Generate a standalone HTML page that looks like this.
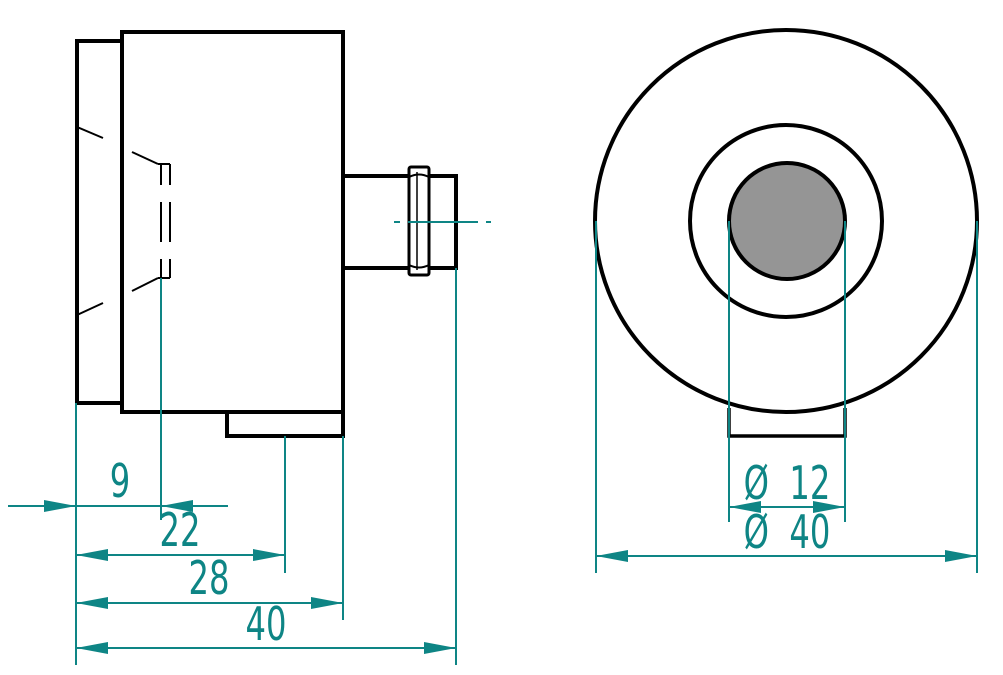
<!DOCTYPE html>
<html><head><meta charset="utf-8"><style>html,body{margin:0;padding:0;background:#fff}svg{display:block}</style></head>
<body>
<svg width="1003" height="675" viewBox="0 0 1003 675" xmlns="http://www.w3.org/2000/svg">
<defs>
<marker id="a" viewBox="0 0 32 12" refX="32" refY="6" markerWidth="32" markerHeight="12" markerUnits="userSpaceOnUse" orient="auto-start-reverse"><path d="M0,0 L32,6 L0,12 Z" fill="#0e8585"/></marker>
</defs>
<g fill="none" stroke="#000" stroke-width="4">
<rect x="77" y="41" width="45" height="362"/>
<rect x="122" y="32" width="221" height="380"/>
<rect x="227" y="412" width="116" height="24"/>
<rect x="343" y="176" width="113" height="92"/>
<rect x="409" y="167" width="20" height="108" rx="2" stroke-width="3" fill="#fff"/>
</g>
<g stroke="#000" stroke-width="2" fill="none">
<line x1="417" y1="172" x2="417" y2="270" stroke-width="1.5"/>
<path d="M409,177 Q419,172 429,177 M409,265 Q419,270 429,265" stroke-width="2"/>
<line x1="77" y1="127" x2="103" y2="138"/>
<line x1="77" y1="315" x2="103" y2="303"/>
<line x1="132" y1="152" x2="158" y2="164"/>
<line x1="132" y1="291" x2="158" y2="278"/>
<path d="M161,164 V185 M170,164 V185 M161,202 V242 M170,202 V242 M161,259 V278 M170,259 V278 M158,164 H170 M158,278 H170"/>
</g>
<g fill="none" stroke="#000" stroke-width="4">
<circle cx="786" cy="221" r="191"/>
<circle cx="786" cy="221" r="96"/>
<circle cx="787" cy="221" r="58" fill="#959595"/>
<path d="M729,408 V436 H845 V408" stroke-width="3.5"/>
</g>
<g stroke="#0e8585" stroke-width="2" fill="none">
<path d="M394,222 H400 M408,222 H478 M486,222 H491"/>
<line x1="76" y1="403" x2="76" y2="665"/>
<line x1="161" y1="278" x2="161" y2="520"/>
<line x1="285" y1="436" x2="285" y2="573"/>
<line x1="343" y1="436" x2="343" y2="620"/>
<line x1="456" y1="268" x2="456" y2="665"/>
<line x1="76" y1="506" x2="228" y2="506"/>
<line x1="8" y1="506" x2="76" y2="506" marker-end="url(#a)"/>
<line x1="228" y1="506" x2="161" y2="506" marker-end="url(#a)"/>
<line x1="76" y1="555" x2="285" y2="555" marker-start="url(#a)" marker-end="url(#a)"/>
<line x1="76" y1="603" x2="343" y2="603" marker-start="url(#a)" marker-end="url(#a)"/>
<line x1="76" y1="648" x2="456" y2="648" marker-start="url(#a)" marker-end="url(#a)"/>
<line x1="596" y1="221" x2="596" y2="573"/>
<line x1="977" y1="221" x2="977" y2="573"/>
<line x1="729" y1="221" x2="729" y2="522"/>
<line x1="845" y1="221" x2="845" y2="522"/>
<line x1="729" y1="507" x2="845" y2="507" marker-start="url(#a)" marker-end="url(#a)"/>
<line x1="596" y1="556" x2="977" y2="556" marker-start="url(#a)" marker-end="url(#a)"/>
</g>
<g fill="#0e8585" font-family="'DejaVu Sans','Liberation Sans',sans-serif" font-size="46" text-anchor="middle">
<text x="120" y="497" transform="translate(120 0) scale(0.7 1) translate(-120 0)">9</text>
<text x="180" y="546" transform="translate(180 0) scale(0.7 1) translate(-180 0)">22</text>
<text x="209" y="594" transform="translate(209 0) scale(0.7 1) translate(-209 0)">28</text>
<text x="266" y="640" transform="translate(266 0) scale(0.7 1) translate(-266 0)">40</text>
<text x="787" y="499" transform="translate(787 0) scale(0.7 1) translate(-787 0)" xml:space="preserve">Ø  12</text>
<text x="787" y="548" transform="translate(787 0) scale(0.7 1) translate(-787 0)" xml:space="preserve">Ø  40</text>
</g>
</svg>
</body></html>
